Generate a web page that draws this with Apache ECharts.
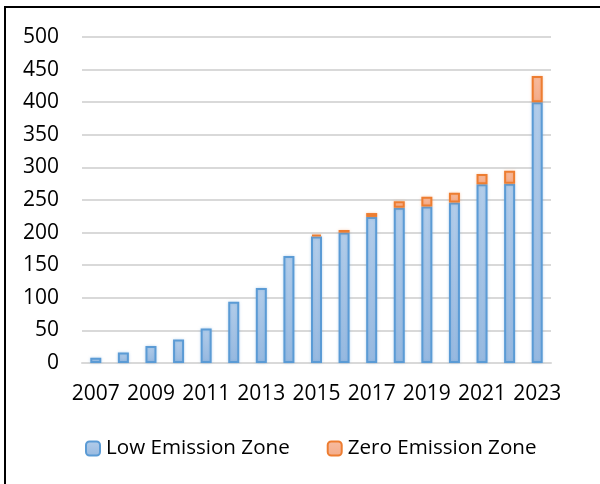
<!DOCTYPE html>
<html>
<head>
<meta charset="utf-8">
<script src="https://cdn.jsdelivr.net/npm/echarts@6/dist/echarts.min.js"></script>
<style>
  html, body { margin: 0; padding: 0; background: #fff; }
  #chart { width: 600px; height: 484px; }
</style>
</head>
<body>
<div id="chart"></div>
<script>
// Number of clean-air zones per year
const years = ['2007','2008','2009','2010','2011','2012','2013','2014','2015',
               '2016','2017','2018','2019','2020','2021','2022','2023'];
const lowEmission  = [8, 16, 26, 36, 53, 94, 115, 164, 194, 200, 224, 238, 240, 246, 274, 275, 400];
const zeroEmission = [0, 0, 0, 0, 0, 0, 0, 0, 3, 4, 6, 10, 15, 15, 16, 20, 40];
const yTicks = { min: 0, max: 500, interval: 50 };

const FONT = 'Open Sans';
const FONT_SIZE = 21;

// empty segments are left out so no zero-height outline is drawn
const asBars = arr => arr.map(v => (v > 0 ? v : '-'));

const chart = echarts.init(document.getElementById('chart'), null, { renderer: 'canvas' });

chart.setOption({
  animation: false,
  backgroundColor: '#ffffff',
  textStyle: { fontFamily: FONT },
  graphic: [{
    type: 'rect',
    shape: { x: 5, y: 7, width: 700, height: 600 },
    style: { fill: 'none', stroke: '#000000', lineWidth: 2 },
    silent: true,
    z: 100
  }],
  grid: { left: 82, right: 49, top: 37, bottom: 121, containLabel: false },
  legend: {
    top: 438,
    left: 85,
    padding: 0,
    itemWidth: 14,
    itemHeight: 14,
    itemGap: 37,
    textStyle: { fontFamily: FONT, fontSize: 20.6, color: '#000000', padding: [0, 0, 0, 1] },
    data: ['Low Emission Zone', 'Zero Emission Zone']
  },
  xAxis: {
    type: 'category',
    data: years,
    axisTick: { show: false },
    axisLine: { lineStyle: { color: '#d9d9d9', width: 2 } },
    axisLabel: {
      interval: 1,
      margin: 21,
      fontFamily: FONT,
      fontSize: FONT_SIZE,
      color: '#000000'
    }
  },
  yAxis: {
    type: 'value',
    min: yTicks.min,
    max: yTicks.max,
    interval: yTicks.interval,
    axisLine: { show: false },
    axisTick: { show: false },
    splitLine: { lineStyle: { color: '#d9d9d9', width: 2 } },
    axisLabel: {
      margin: 23,
      fontFamily: FONT,
      fontSize: FONT_SIZE,
      color: '#000000'
    }
  },
  series: [
    {
      name: 'Low Emission Zone',
      type: 'bar',
      stack: 'zones',
      barWidth: 11,
      data: asBars(lowEmission),
      itemStyle: {
        color: new echarts.graphic.LinearGradient(0, 0, 0, 1, [
          { offset: 0, color: '#b3cdea' },
          { offset: 1, color: '#97b9e0' }
        ]),
        borderColor: '#5b9bd5',
        borderWidth: 2,
        shadowColor: 'rgba(91,155,213,0.35)',
        shadowBlur: 3
      }
    },
    {
      name: 'Zero Emission Zone',
      type: 'bar',
      stack: 'zones',
      barWidth: 11,
      data: asBars(zeroEmission),
      itemStyle: {
        color: new echarts.graphic.LinearGradient(0, 0, 0, 1, [
          { offset: 0, color: '#f7bca0' },
          { offset: 1, color: '#f4ac8a' }
        ]),
        borderColor: '#ed7d31',
        borderWidth: 2,
        shadowColor: 'rgba(237,125,49,0.3)',
        shadowBlur: 3
      }
    }
  ]
});
</script>
</body>
</html>
